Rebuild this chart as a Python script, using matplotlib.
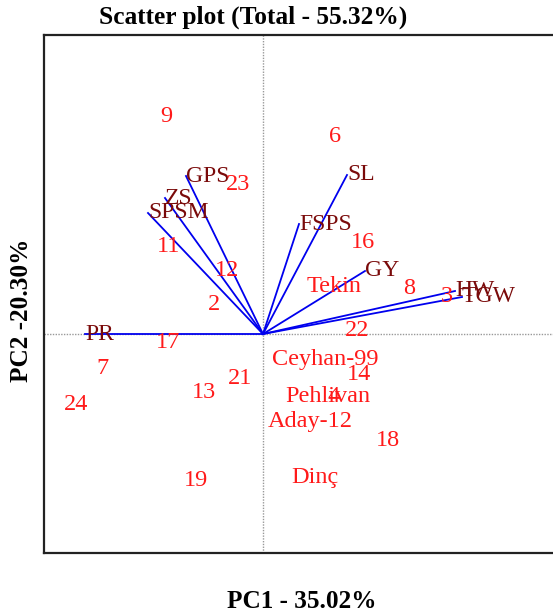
import matplotlib
matplotlib.use("Agg")
import matplotlib.pyplot as plt

plt.rcParams['font.family'] = ['Liberation Serif', 'DejaVu Serif']

# Genotype scores (PC1, PC2)
genotypes = ['9', '6', '23', '11', '16', '12', 'Tekin', '8', '3', '2', '22', '17',
             'Ceyhan-99', '7', '14', '21', '13', 'Pehlivan', '4', '24', 'Aday-12',
             '18', 'Dinç', '19']
pc1 = [-0.97, 0.72, -0.25, -0.94, 1.00, -0.36, 0.71, 1.46, 1.84, -0.49, 0.94, -0.95,
       0.62, -1.60, 0.96, -0.23, -0.59, 0.65, 0.71, -1.87, 0.47,
       1.25, 0.52, -0.67]
pc2 = [2.17, 1.98, 1.49, 0.88, 0.92, 0.64, 0.47, 0.46, 0.37, 0.29, 0.04, -0.08,
       -0.26, -0.35, -0.41, -0.45, -0.58, -0.62, -0.63, -0.70, -0.88,
       -1.06, -1.43, -1.46]

# Trait vectors (loadings)
traits = ['PR', 'SPSM', 'ZS', 'GPS', 'FSPS', 'SL', 'GY', 'HW', 'TGW']
load1 = [-1.78, -1.15, -0.98, -0.77, 0.36, 0.84, 1.02, 1.92, 1.99]
load2 = [0.00, 1.21, 1.36, 1.58, 1.10, 1.59, 0.63, 0.43, 0.37]

title = 'Scatter plot (Total - 55.32%)'
xlabel = 'PC1 - 35.02%'
ylabel = 'PC2 -20.30%'

W, H = 553, 615
fig = plt.figure(figsize=(W / 100, H / 100), dpi=100)
left_px, right_px, top_px, bottom_px = 44, 700, 35, 553
ax = fig.add_axes([left_px / W, (H - bottom_px) / H,
                   (right_px - left_px) / W, (bottom_px - top_px) / H])
ax.set_xlim(-2.19, 4.37)
ax.set_ylim(-2.19, 2.99)
ax.set_xticks([])
ax.set_yticks([])
for s in ['left', 'top', 'bottom']:
    ax.spines[s].set_linewidth(1.6)
    ax.spines[s].set_color('#222222')
ax.spines['right'].set_visible(False)

ax.axhline(0, color='#999999', lw=1.0, ls=(0, (1, 1)), zorder=1)
ax.axvline(0, color='#999999', lw=1.0, ls=(0, (1, 1)), zorder=1)

for name, x, y in zip(traits, load1, load2):
    ax.plot([0, x], [0, y], color='#0000ee', lw=1.3, zorder=2)
    ax.text(x, y, name, color='#7a0a0a', fontsize=17, ha='left', va='center', zorder=3)

for name, x, y in zip(genotypes, pc1, pc2):
    ax.text(x, y, name, color='#ff1a1a', fontsize=17.5, ha='center', va='center', zorder=4)

fig.text(253 / W, 1 - 17 / H, title, fontsize=18.3, fontweight='bold', ha='center', va='center')
fig.text(302 / W, 1 - 601 / H, xlabel, fontsize=18.2, fontweight='bold', ha='center', va='center')
fig.text(22 / W, 1 - 310 / H, ylabel, fontsize=18.2, fontweight='bold', ha='center', va='center',
         rotation=90)

fig.savefig('out.png', dpi=100)
